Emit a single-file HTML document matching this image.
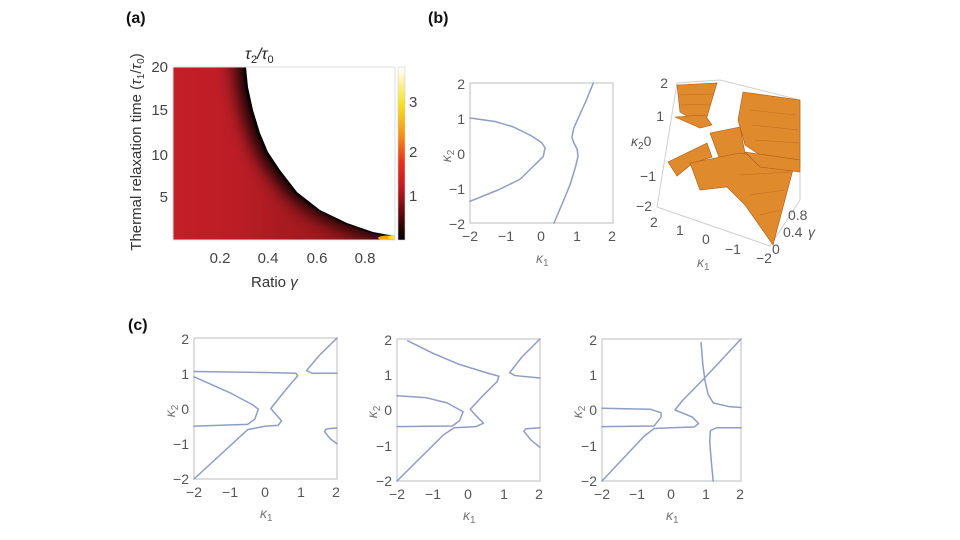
<!DOCTYPE html>
<html><head><meta charset="utf-8"><style>
html,body{margin:0;padding:0;background:#fff;}
svg{display:block;font-family:"Liberation Sans",sans-serif;}
.t{font-size:14px;fill:#555;}
.ta{font-size:15px;fill:#444;}
.fr{fill:none;stroke:#c8c8c8;stroke-width:1.2;}
.cv{fill:none;stroke:#8f9cc6;stroke-width:1.5;vector-effect:non-scaling-stroke;stroke-linejoin:round;stroke-linecap:round;}
.or{fill:#e08a2e;stroke:#a85a1a;stroke-width:0.6;}
</style></head><body>
<svg width="960" height="540" viewBox="0 0 960 540" xmlns="http://www.w3.org/2000/svg">
<defs>
<linearGradient id="cb" x1="0" y1="1" x2="0" y2="0">
<stop offset="0" stop-color="#000"/><stop offset="0.15" stop-color="#5a0a0c"/><stop offset="0.3" stop-color="#c01a22"/><stop offset="0.45" stop-color="#e8301c"/><stop offset="0.6" stop-color="#f39018"/><stop offset="0.78" stop-color="#f7e020"/><stop offset="1" stop-color="#fff"/>
</linearGradient>
<linearGradient id="redg" x1="0" y1="0" x2="1" y2="0">
<stop offset="0" stop-color="#c41f28"/><stop offset="0.3" stop-color="#bb1d25"/><stop offset="0.5" stop-color="#a81a20"/><stop offset="1" stop-color="#8a1518"/>
</linearGradient>
<clipPath id="pa"><rect x="173" y="67" width="222" height="173"/></clipPath>
<filter id="bl" x="-20%" y="-20%" width="140%" height="140%"><feGaussianBlur stdDeviation="9"/></filter>
</defs>

<!-- (a) -->
<text x="126" y="23" font-size="16" font-weight="bold" fill="#111">(a)</text>
<text x="245" y="59" font-size="16" fill="#222" font-style="italic">τ<tspan font-size="11" dy="4" font-style="normal">2</tspan><tspan dy="-4">/τ</tspan><tspan font-size="11" dy="4" font-style="normal">0</tspan></text>
<g clip-path="url(#pa)">
<rect x="173" y="67" width="222" height="173" fill="url(#redg)"/>
<path d="M246,67 L248,87 L253,110 L260,133 L268,152 L280,170 L297,192 L320,210 L347,223 L373,232 L395,237 L395,240 L420,240 L420,40 L246,40Z" fill="#000" filter="url(#bl)" transform="translate(-10,2)"/>
<path d="M246,67 L248,87 L253,110 L260,133 L268,152 L280,170 L297,192 L320,210 L347,223 L373,232 L395,237 L395,240 L420,240 L420,40 L246,40Z" fill="#000" opacity="0.6" transform="translate(-3,1)"/>
<ellipse cx="388" cy="238" rx="10" ry="2.5" fill="#f3a020"/>
<ellipse cx="392" cy="237.5" rx="4" ry="1.8" fill="#f8e040"/>
<path d="M246,67 L248,87 L253,110 L260,133 L268,152 L280,170 L297,192 L320,210 L347,223 L373,232 L395,236 L395,67Z" fill="#fff"/>
</g>
<rect x="173" y="67" width="222" height="173" fill="none" stroke="#ddd" stroke-width="1"/>
<rect x="398" y="67" width="7" height="173" fill="url(#cb)" stroke="#ccc" stroke-width="0.6"/>
<text class="ta" x="409" y="107">3</text><text class="ta" x="409" y="157">2</text><text class="ta" x="409" y="201">1</text>
<text class="ta" x="168" y="72" text-anchor="end">20</text>
<text class="ta" x="168" y="115" text-anchor="end">15</text>
<text class="ta" x="168" y="160" text-anchor="end">10</text>
<text class="ta" x="168" y="202" text-anchor="end">5</text>
<text class="ta" x="220" y="263" text-anchor="middle">0.2</text>
<text class="ta" x="268" y="263" text-anchor="middle">0.4</text>
<text class="ta" x="317" y="263" text-anchor="middle">0.6</text>
<text class="ta" x="365" y="263" text-anchor="middle">0.8</text>
<text x="251" y="287" font-size="15" fill="#333">Ratio <tspan font-style="italic">γ</tspan></text>
<text transform="translate(141,152) rotate(-90)" text-anchor="middle" font-size="15" fill="#333">Thermal relaxation time (<tspan font-style="italic">τ</tspan><tspan font-size="10" dy="3">1</tspan><tspan dy="-3">/</tspan><tspan font-style="italic">τ</tspan><tspan font-size="10" dy="3">0</tspan><tspan dy="-3">)</tspan></text>

<!-- (b) -->
<text x="428" y="23" font-size="16" font-weight="bold" fill="#111">(b)</text>
<rect class="fr" x="470" y="83" width="143" height="140"/>
<g transform="translate(541.5,153) scale(35.75,-35)">
<polyline class="cv" points="-2,1 -1.3,0.9 -0.8,0.75 -0.3,0.5 0,0.3 0.1,0.15 0.05,-0.1 -0.2,-0.35 -0.6,-0.75 -1.2,-1.05 -2,-1.38"/>
<polyline class="cv" points="0.35,-2 0.6,-1.4 0.8,-0.9 0.95,-0.4 1.02,-0.1 1,0.1 0.9,0.3 0.85,0.45 0.9,0.7 1.05,1.05 1.25,1.5 1.45,2"/>
</g>
<text class="t" x="465" y="89" text-anchor="end">2</text><text class="t" x="465" y="124" text-anchor="end">1</text><text class="t" x="465" y="159" text-anchor="end">0</text><text class="t" x="465" y="194" text-anchor="end">−1</text><text class="t" x="465" y="229" text-anchor="end">−2</text>
<text class="t" x="470" y="241" text-anchor="middle">−2</text><text class="t" x="506" y="241" text-anchor="middle">−1</text><text class="t" x="541" y="241" text-anchor="middle">0</text><text class="t" x="577" y="241" text-anchor="middle">1</text><text class="t" x="612" y="241" text-anchor="middle">2</text>
<text x="536" y="263" font-size="14" fill="#777" font-style="italic">κ<tspan font-size="10" dy="3" font-style="normal">1</tspan></text>
<text transform="translate(451,156) rotate(-90)" font-size="14" fill="#777" font-style="italic" text-anchor="middle">κ<tspan font-size="10" dy="3" font-style="normal">2</tspan></text>

<!-- 3D -->
<g stroke="#cfcfcf" stroke-width="1" fill="none">
<polyline points="677,83 657,207 770,246 800,200"/>
<polyline points="677,83 720,80 800,100"/>
<line x1="800" y1="100" x2="800" y2="200"/>
</g>
<polygon class="or" points="677,85 717,83 707,117 690,118 680,112"/>
<polygon class="or" points="675,117 705,115 712,125 700,128"/>
<polygon class="or" points="743,92 800,100 800,162 760,155 745,145 738,120"/>
<polygon class="or" points="710,133 740,127 745,153 720,160"/>
<polygon class="or" points="668,162 707,143 712,157 693,163 677,176"/>
<polygon class="or" points="690,163 740,153 795,162 773,245 745,205 727,187 700,190"/>
<polygon class="or" points="745,152 800,160 800,172 760,167" fill="#c9772a"/>
<g stroke="#a85a1a" stroke-width="0.5" opacity="0.6">
<line x1="750" y1="110" x2="795" y2="115"/><line x1="752" y1="125" x2="798" y2="130"/><line x1="755" y1="140" x2="799" y2="143"/>
<line x1="740" y1="175" x2="790" y2="172"/><line x1="750" y1="195" x2="785" y2="190"/><line x1="760" y1="215" x2="780" y2="210"/>
<line x1="680" y1="95" x2="714" y2="94"/><line x1="681" y1="105" x2="711" y2="104"/>
</g>
<text class="t" x="668" y="88" text-anchor="end">2</text><text class="t" x="664" y="121" text-anchor="end">1</text>
<text x="631" y="146" font-size="14" fill="#555" font-style="italic">κ<tspan font-size="10" dy="3" font-style="normal">2</tspan><tspan dy="-3" font-style="normal">0</tspan></text>
<text class="t" x="656" y="181" text-anchor="end">−1</text><text class="t" x="652" y="211" text-anchor="end">−2</text>
<text class="t" x="650" y="227">2</text><text class="t" x="676" y="235">1</text><text class="t" x="702" y="244">0</text><text class="t" x="725" y="254">−1</text><text class="t" x="756" y="263">−2</text>
<text x="697" y="267" font-size="14" fill="#777" font-style="italic">κ<tspan font-size="10" dy="3" font-style="normal">1</tspan></text>
<text class="t" x="788" y="220">0.8</text><text class="t" x="783" y="237">0.4</text><text x="808" y="237" font-size="14" fill="#555" font-style="italic">γ</text><text class="t" x="772" y="254">0</text>

<!-- (c) -->
<text x="128" y="330" font-size="16" font-weight="bold" fill="#111">(c)</text>

<rect class="fr" x="194" y="338" width="143" height="141"/>
<g transform="translate(265.5,408.5) scale(35.75,-35.25)">
<polyline class="cv" points="-2,1.05 0,1.02 0.85,1 0.9,0.93 0.5,0.45 0.15,0 0.25,-0.12 0.45,-0.35 0.35,-0.48 0,-0.5 -0.5,-0.6 -2,-2"/>
<polyline class="cv" points="-2,0.9 -1,0.45 -0.35,0.1 -0.2,-0.02 -0.3,-0.3 -0.5,-0.45 -2,-0.5"/>
<polyline class="cv" points="2,2 1.5,1.5 1.15,1.08 1.3,1 2,1"/>
<polyline class="cv" points="2,-0.55 1.7,-0.58 1.65,-0.65 1.8,-0.85 2,-1"/>
</g>
<text class="t" x="189" y="344" text-anchor="end">2</text><text class="t" x="189" y="379" text-anchor="end">1</text><text class="t" x="189" y="414" text-anchor="end">0</text><text class="t" x="189" y="449" text-anchor="end">−1</text><text class="t" x="189" y="484" text-anchor="end">−2</text>
<text class="t" x="194" y="497" text-anchor="middle">−2</text><text class="t" x="230" y="497" text-anchor="middle">−1</text><text class="t" x="265" y="497" text-anchor="middle">0</text><text class="t" x="301" y="497" text-anchor="middle">1</text><text class="t" x="336" y="497" text-anchor="middle">2</text>
<text x="260" y="518" font-size="14" fill="#777" font-style="italic">κ<tspan font-size="10" dy="3" font-style="normal">1</tspan></text>
<text transform="translate(175,411) rotate(-90)" font-size="14" fill="#777" font-style="italic" text-anchor="middle">κ<tspan font-size="10" dy="3" font-style="normal">2</tspan></text>

<rect class="fr" x="397" y="339" width="143" height="142"/>
<g transform="translate(468.5,410) scale(35.75,-35.5)">
<polyline class="cv" points="-1.7,1.95 -1,1.6 -0.3,1.3 0.5,1.05 0.85,0.95 0.8,0.8 0.4,0.4 0.05,0.02 0.2,-0.15 0.42,-0.37 0.2,-0.47 -0.4,-0.5 -0.7,-0.7 -2,-2"/>
<polyline class="cv" points="-2,0.4 -1.2,0.35 -0.6,0.2 -0.15,-0.05 -0.25,-0.3 -0.45,-0.45 -2,-0.47"/>
<polyline class="cv" points="2,2 1.5,1.5 1.15,1.05 1.3,0.97 2,0.9"/>
<polyline class="cv" points="2,-0.5 1.6,-0.53 1.55,-0.6 1.75,-0.85 2,-1.05"/>
</g>
<text class="t" x="392" y="345" text-anchor="end">2</text><text class="t" x="392" y="380" text-anchor="end">1</text><text class="t" x="392" y="415" text-anchor="end">0</text><text class="t" x="392" y="451" text-anchor="end">−1</text><text class="t" x="392" y="486" text-anchor="end">−2</text>
<text class="t" x="397" y="499" text-anchor="middle">−2</text><text class="t" x="433" y="499" text-anchor="middle">−1</text><text class="t" x="468" y="499" text-anchor="middle">0</text><text class="t" x="504" y="499" text-anchor="middle">1</text><text class="t" x="539" y="499" text-anchor="middle">2</text>
<text x="463" y="520" font-size="14" fill="#777" font-style="italic">κ<tspan font-size="10" dy="3" font-style="normal">1</tspan></text>
<text transform="translate(377,412) rotate(-90)" font-size="14" fill="#777" font-style="italic" text-anchor="middle">κ<tspan font-size="10" dy="3" font-style="normal">2</tspan></text>

<rect class="fr" x="602" y="339" width="139" height="142"/>
<g transform="translate(671.5,410) scale(34.75,-35.5)">
<polyline class="cv" points="-2,-2 -0.8,-0.75 -0.5,-0.52 0,-0.5 0.65,-0.48 0.78,-0.38 0.6,-0.2 0.1,0 0.3,0.25 1,0.95 2,2"/>
<polyline class="cv" points="-2,0.05 -0.6,0.02 -0.3,-0.08 -0.3,-0.2 -0.5,-0.45 -2,-0.47"/>
<polyline class="cv" points="0.85,1.9 0.9,1.3 0.96,0.85 1.05,0.45 1.2,0.2 1.63,0.1 2,0.07"/>
<polyline class="cv" points="2,-0.5 1.3,-0.5 1.12,-0.58 1.1,-0.9 1.15,-1.5 1.2,-2"/>
</g>
<text class="t" x="597" y="345" text-anchor="end">2</text><text class="t" x="597" y="380" text-anchor="end">1</text><text class="t" x="597" y="415" text-anchor="end">0</text><text class="t" x="597" y="451" text-anchor="end">−1</text><text class="t" x="597" y="486" text-anchor="end">−2</text>
<text class="t" x="602" y="499" text-anchor="middle">−2</text><text class="t" x="637" y="499" text-anchor="middle">−1</text><text class="t" x="671" y="499" text-anchor="middle">0</text><text class="t" x="706" y="499" text-anchor="middle">1</text><text class="t" x="740" y="499" text-anchor="middle">2</text>
<text x="666" y="520" font-size="14" fill="#777" font-style="italic">κ<tspan font-size="10" dy="3" font-style="normal">1</tspan></text>
<text transform="translate(582,412) rotate(-90)" font-size="14" fill="#777" font-style="italic" text-anchor="middle">κ<tspan font-size="10" dy="3" font-style="normal">2</tspan></text>
</svg>
</body></html>
